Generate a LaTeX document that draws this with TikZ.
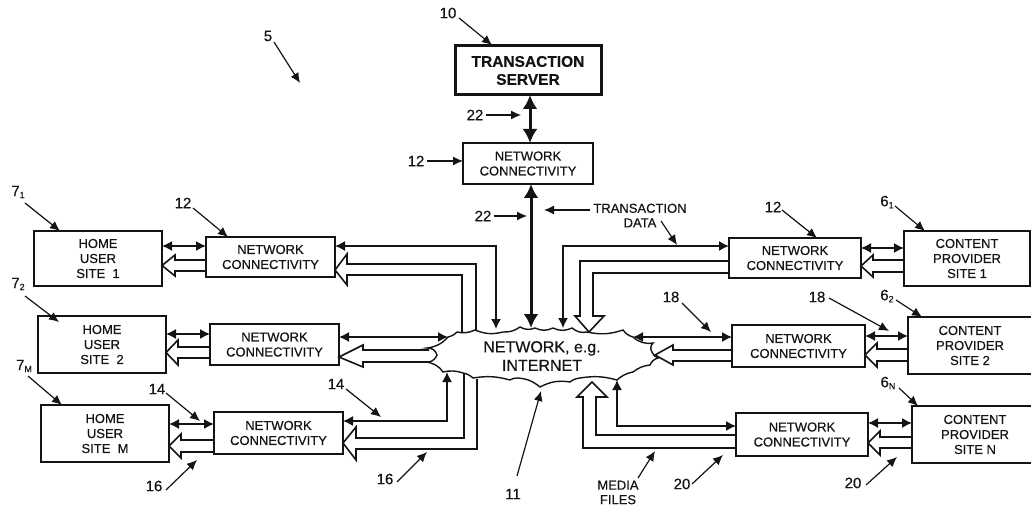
\documentclass[tikz,border=0pt]{standalone}
\usepackage{fontspec}
\setmainfont[FakeBold=0.45]{Liberation Sans}
\usetikzlibrary{arrows.meta}
\definecolor{ink}{gray}{0.08}
\tikzset{
  box/.style={draw=ink,line width=1.5pt,inner sep=0pt,outer sep=0pt,align=center,text=ink,font=\fontsize{13}{15}\selectfont},
  serverbox/.style={box,line width=3pt,font=\fontsize{15.5}{18}\selectfont\bfseries},
  conn/.style={draw=ink,line width=1.6pt,line join=miter},
  both/.style={conn,line width=1.4pt,{Latex[length=10pt,width=10pt]}-{Latex[length=10pt,width=10pt]}},
  thick link/.style={draw=ink,line width=3pt,{Latex[length=14pt,width=15pt]}-{Latex[length=14pt,width=15pt]}},
  lead/.style={draw=ink,line width=1.2pt,-{Latex[length=10pt,width=9pt]}},
  lab/.style={inner sep=0pt,text=ink,font=\fontsize{15}{15}\selectfont},
  small/.style={inner sep=0pt,text=ink,align=center,font=\fontsize{13}{14.5}\selectfont}
}
\newcommand{\bx}[7][box]{\node[#1,minimum width={(#5-#3)*1pt},minimum height={(#6-#4)*1pt}] (#2) at ({(#3+#5)/2},{(#4+#6)/2}) {#7};}
\newcommand{\sbs}[2]{#1\raisebox{-2pt}{\fontsize{9}{9}\selectfont #2}}
\begin{document}
\begin{tikzpicture}[x=1pt,y=-1pt]
\useasboundingbox (0,0) rectangle (1031,505);
% boxes
\bx[serverbox]{ts}{455}{46}{601}{95}{TRANSACTION\\SERVER}
\bx{nct}{463}{143}{593}{184}{NETWORK\\CONNECTIVITY}
\bx{h1}{34}{231}{162}{286}{HOME\\USER\\SITE~~1}
\bx{h2}{38}{316}{166}{373}{HOME\\USER\\SITE~~2}
\bx{h3}{41}{405}{169}{462}{HOME\\USER\\SITE~~M}
\bx{l1}{206}{237}{335}{277}{NETWORK\\CONNECTIVITY}
\bx{l2}{210}{324}{339}{365}{NETWORK\\CONNECTIVITY}
\bx{l3}{214}{412}{343}{454}{NETWORK\\CONNECTIVITY}
\bx{r1}{729}{238}{861}{278}{NETWORK\\CONNECTIVITY}
\bx{r2}{732}{325}{865}{367}{NETWORK\\CONNECTIVITY}
\bx{r3}{736}{413}{868}{456}{NETWORK\\CONNECTIVITY}
\bx{c1}{904}{231}{1030}{286}{CONTENT\\PROVIDER\\SITE 1}
\bx{c2}{908}{317}{1032}{374}{CONTENT\\PROVIDER\\SITE 2}
\bx{c3}{912}{406}{1038}{463}{CONTENT\\PROVIDER\\SITE N}
% cloud
\draw[draw=ink,line width=1.4pt,fill=white]
 (448,337) to[bend left=20] (427,348) to[bend left=40] (437,355) to[bend left=40] (425,362)
 to[bend left=25] (443,372) to[bend left=15] (463,373) to[bend left=15] (473,378)
 to[bend left=12] (510,380) to[bend left=15] (517,378) to[bend left=18] (540,387)
 to[bend left=18] (570,382) to[bend left=15] (580,378) to[bend left=12] (617,380)
 to[bend left=15] (633,372) to[bend left=15] (650,365) to[bend left=25] (658,358)
 to[bend left=25] (652,352) to[bend left=40] (653,343) to[bend left=25] (633,337)
 to[bend left=18] (623,330) to[bend left=15] (587,332) to[bend left=25] (572,328)
 to[bend left=25] (553,328) to[bend left=25] (535,328) to[bend left=25] (520,327)
 to[bend left=18] (503,332) to[bend left=18] (475,330) to[bend left=18] (457,332)
 to[bend left=15] cycle;
\node[inner sep=0pt,align=center,text=ink,font=\fontsize{16}{18.5}\selectfont] (net) at (542,356) {NETWORK, e.g.\\INTERNET};
% cloud attachment points
\coordinate (ca) at (496,329);
\coordinate (cb) at (448,337);
\coordinate (cc) at (447,372);
\coordinate (cd) at (531,328);
\coordinate (ce) at (563,328);
\coordinate (cf) at (633,337);
\coordinate (cg) at (617,380);
\coordinate (ch) at (589,332);
\coordinate (ci) at (655,355);
\coordinate (cj) at (592,382);
% thick central links
\draw[thick link] (ts.south -| 530,0) -- (nct.north -| 530,0);
\draw[thick link] (nct.south -| 531,0) -- (cd);
% home to connectivity
\draw[both] (h1.east |- 0,246) -- (l1.west |- 0,246);
\draw[both] (h2.east |- 0,334) -- (l2.west |- 0,334);
\draw[both] (h3.east |- 0,424) -- (l3.west |- 0,424);
\draw[conn] (l1.west |- 0,260) -- (175,260) -- (175,255) -- (h1.east |- 0,265.5) -- (175,276) -- (175,271) -- (l1.west |- 0,271);
\draw[conn] (l2.west |- 0,347) -- (178,347) -- (178,340) -- (h2.east |- 0,352.5) -- (178,365) -- (178,358) -- (l2.west |- 0,358);
\draw[conn] (l3.west |- 0,440) -- (181,440) -- (181,434) -- (h3.east |- 0,446) -- (181,458) -- (181,452) -- (l3.west |- 0,452);
% left connectivity to cloud
\draw[both] (l1.east |- 0,246) -- (496,246) -- (ca);
\draw[both] (l2.east |- 0,337) -- (cb);
\draw[both] (l3.east |- 0,421) -- (447,421) -- (cc);
\draw[conn] (476,331) -- (476,264) -- (347,264) -- (347,254) -- (l1.east |- 0,270) -- (347,285) -- (347,275) -- (462,275) -- (462,333);
\draw[conn] (429,350) -- (363,350) -- (363,345) -- (l2.east |- 0,357) -- (363,367) -- (363,362) -- (430,362);
\draw[conn] (464,373) -- (464,438) -- (356,438) -- (356,427) -- (l3.east |- 0,443) -- (356,460) -- (356,449) -- (477,449) -- (477,379);
% right connectivity to cloud
\draw[both] (ce) -- (563,246) -- (r1.west |- 0,246);
\draw[both] (cf) -- (r2.west |- 0,337);
\draw[both] (cg) -- (617,426) -- (r3.west |- 0,426);
\draw[conn] (r1.west |- 0,261) -- (580,261) -- (580,316) -- (575,316) -- (ch) -- (604,316) -- (593,316) -- (593,273) -- (r1.west |- 0,273);
\draw[conn] (r2.west |- 0,350) -- (673,350) -- (673,345) -- (ci) -- (673,365) -- (673,361) -- (r2.west |- 0,361);
\draw[conn] (r3.west |- 0,448) -- (583,448) -- (583,397) -- (577,397) -- (cj) -- (607,397) -- (596,397) -- (596,435) -- (r3.west |- 0,435);
% connectivity to content
\draw[both] (r1.east |- 0,248) -- (c1.west |- 0,248);
\draw[both] (r2.east |- 0,336) -- (c2.west |- 0,336);
\draw[both] (r3.east |- 0,423) -- (c3.west |- 0,423);
\draw[conn] (c1.west |- 0,260) -- (873,260) -- (873,255) -- (r1.east |- 0,266) -- (873,277) -- (873,272) -- (c1.west |- 0,272);
\draw[conn] (c2.west |- 0,349) -- (877,349) -- (877,343) -- (r2.east |- 0,355) -- (877,367) -- (877,361) -- (c2.west |- 0,361);
\draw[conn] (c3.west |- 0,437) -- (880,437) -- (880,431) -- (r3.east |- 0,443) -- (880,455) -- (880,448) -- (c3.west |- 0,448);
% labels and leaders
\node[lab] (t10) at (448,13) {10};
\coordinate (e10) at (492,45); \draw[lead] (459,18) -- (e10);
\node[lab] (t5) at (268,36) {5};
\coordinate (e5) at (300,83); \draw[lead] (274,42) -- (e5);
\node[lab] (t22a) at (475,115) {22};
\coordinate (e22a) at (521,115); \draw[lead] (t22a.east) ++(2,0) -- (e22a);
\node[lab] (t12a) at (416,161) {12};
\draw[lead] (t12a.east) ++(2,0) -- (nct.west |- t12a);
\node[lab] (t22b) at (483,216) {22};
\coordinate (e22b) at (527,216); \draw[lead] (t22b.east) ++(2,0) -- (e22b);
\node[small] (ttd) at (640,215.5) {TRANSACTION\\DATA};
\coordinate (etd1) at (544,210); \draw[lead] (590,210) -- (etd1);
\coordinate (etd2) at (677,245); \draw[lead] (661,221) -- (etd2);
\node[lab] (t71) at (18,192) {\sbs{7}{1}};
\draw[lead] (25,203) -- (60,231);
\node[lab] (t12b) at (183,203) {12};
\draw[lead] (193,208) -- (228,237);
\node[lab] (t72) at (18,284) {\sbs{7}{2}};
\draw[lead] (25,296) -- (59,322);
\node[lab] (t7m) at (24,366) {\sbs{7}{M}};
\draw[lead] (28,376) -- (62,405);
\node[lab] (t14a) at (157,389) {14};
\draw[lead] (166,393) -- (200,421);
\node[lab] (t14b) at (336,384) {14};
\draw[lead] (346,389) -- (381,417);
\node[lab] (t16a) at (154,486) {16};
\draw[lead] (166,490) -- (197,460);
\node[lab] (t16b) at (385,479) {16};
\draw[lead] (397,482) -- (427,452);
\node[lab] (t11) at (513,494) {11};
\draw[lead] (517,476) -- (541,391);
\node[small] (tmf) at (618,492.5) {MEDIA\\FILES};
\draw[lead] (638,478) -- (655,451);
\node[lab] (t20a) at (682,484) {20};
\draw[lead] (692,484) -- (723,455);
\node[lab] (t18a) at (671,297) {18};
\draw[lead] (682,303) -- (711,332);
\node[lab] (t12c) at (773,207) {12};
\draw[lead] (782,210) -- (817,238);
\node[lab] (t61) at (887,202) {\sbs{6}{1}};
\draw[lead] (895,206) -- (925,231);
\node[lab] (t18b) at (817,297) {18};
\draw[lead] (829,298) -- (889,331);
\node[lab] (t62) at (887,296) {\sbs{6}{2}};
\draw[lead] (896,300) -- (922,317);
\node[lab] (t6n) at (888,383) {\sbs{6}{N}};
\draw[lead] (899,388) -- (918,406);
\node[lab] (t20b) at (853,483) {20};
\draw[lead] (866,485) -- (897,457);
\end{tikzpicture}
\end{document}
